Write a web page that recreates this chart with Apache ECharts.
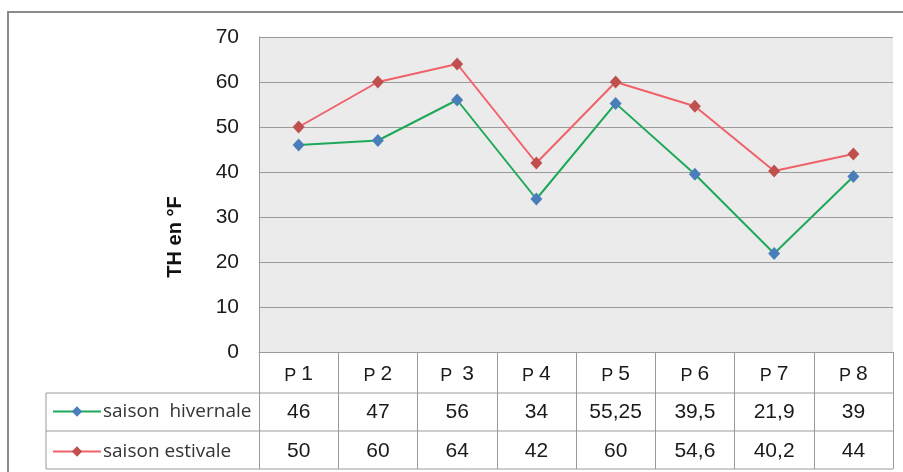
<!DOCTYPE html>
<html><head><meta charset="utf-8">
<script src="https://cdn.jsdelivr.net/npm/echarts@6/dist/echarts.min.js"></script>
<style>html,body{margin:0;padding:0;background:#fff}#c{width:903px;height:472px}</style>
</head><body><div id="c"></div>
<script>
var categories = ['P 1','P 2','P  3','P 4','P 5','P 6','P 7','P 8'];
var hivernale = [46, 47, 56, 34, 55.25, 39.5, 21.9, 39];
var estivale = [50, 60, 64, 42, 60, 54.6, 40.2, 44];
var seriesNames = ['saison  hivernale', 'saison estivale'];
var yTicks = [0, 10, 20, 30, 40, 50, 60, 70];
var yTitle = 'TH en °F';

function fmt(v){ return String(v).replace('.', ','); }
var font = 'Liberation Sans, Arial, sans-serif';
var gridC = '#9a9a9a';
var chart = echarts.init(document.getElementById('c'));
var GL = 259, GR = 893, GT = 37, GB = 352;
chart.setOption({
  animation: false,
  grid: {left: GL, right: 903 - GR, top: GT, bottom: 472 - GB, show: true, backgroundColor: '#ebebeb', borderWidth: 0},
  xAxis: [
    {type: 'category', data: categories, boundaryGap: true,
     axisLine: {show: true, lineStyle: {color: gridC, width: 1}},
     axisTick: {show: true, interval: 0, length: 117, lineStyle: {color: gridC}},
     axisLabel: {color: '#1a1a1a', fontFamily: font, margin: 12, interval: 0,
       formatter: function(v){ var m = v.match(/^(P)(\s+)(\d+)$/); return '{p|' + m[1] + m[2] + '}{n|' + m[3] + '}'; },
       rich: {p: {fontSize: 18, fontFamily: font, color: '#1a1a1a', verticalAlign: 'bottom'},
              n: {fontSize: 21, fontFamily: font, color: '#1a1a1a', verticalAlign: 'bottom'}}}},
    {type: 'category', data: hivernale.map(fmt), position: 'bottom', offset: 40, boundaryGap: true,
     axisLine: {show: false}, axisTick: {show: false},
     axisLabel: {color: '#1a1a1a', fontSize: 21, fontFamily: font, margin: 10, interval: 0}},
    {type: 'category', data: estivale.map(fmt), position: 'bottom', offset: 78, boundaryGap: true,
     axisLine: {show: false}, axisTick: {show: false},
     axisLabel: {color: '#1a1a1a', fontSize: 21, fontFamily: font, margin: 11, interval: 0}}
  ],
  yAxis: {type: 'value', min: yTicks[0], max: yTicks[yTicks.length - 1], interval: 10,
    axisLine: {show: true, lineStyle: {color: gridC}}, axisTick: {show: false},
    axisLabel: {color: '#1a1a1a', fontSize: 21, fontFamily: font, margin: 20},
    splitLine: {show: true, lineStyle: {color: gridC, width: 1}}},
  legend: {orient: 'vertical', left: 52, top: 402, padding: 0, itemGap: 21, itemWidth: 48, itemHeight: 13,
    textStyle: {fontSize: 19, color: '#333', fontFamily: 'Open Sans, sans-serif', padding: [0, 0, 0, -3]},
    data: seriesNames},
  series: [
    {name: seriesNames[0], type: 'line', data: hivernale, xAxisIndex: 0,
     symbol: 'diamond', symbolSize: [12, 13], lineStyle: {color: '#1ea85a', width: 2},
     itemStyle: {color: '#4a7ebb'}},
    {name: seriesNames[1], type: 'line', data: estivale, xAxisIndex: 0,
     symbol: 'diamond', symbolSize: [12, 13], lineStyle: {color: '#f0626a', width: 2},
     itemStyle: {color: '#c0504d'}}
  ],
  graphic: [
    {type: 'rect', shape: {x: 8, y: 12, width: 1000, height: 600}, style: {fill: null, stroke: '#8a8a8a', lineWidth: 2}, silent: true},
    {type: 'line', shape: {x1: 46, y1: 393, x2: GR, y2: 393}, style: {stroke: gridC, lineWidth: 1}},
    {type: 'line', shape: {x1: 46, y1: 431, x2: GR, y2: 431}, style: {stroke: gridC, lineWidth: 1}},
    {type: 'line', shape: {x1: 46, y1: 469, x2: GR, y2: 469}, style: {stroke: gridC, lineWidth: 1}},
    {type: 'line', shape: {x1: 46, y1: 393, x2: 46, y2: 469}, style: {stroke: gridC, lineWidth: 1}},
    {type: 'text', x: 175, y: 237, rotation: Math.PI / 2,
     style: {text: yTitle, fontSize: 20, fontWeight: 'bold', fontFamily: font, fill: '#111', align: 'center', verticalAlign: 'middle'}}
  ]
});
</script></body></html>
